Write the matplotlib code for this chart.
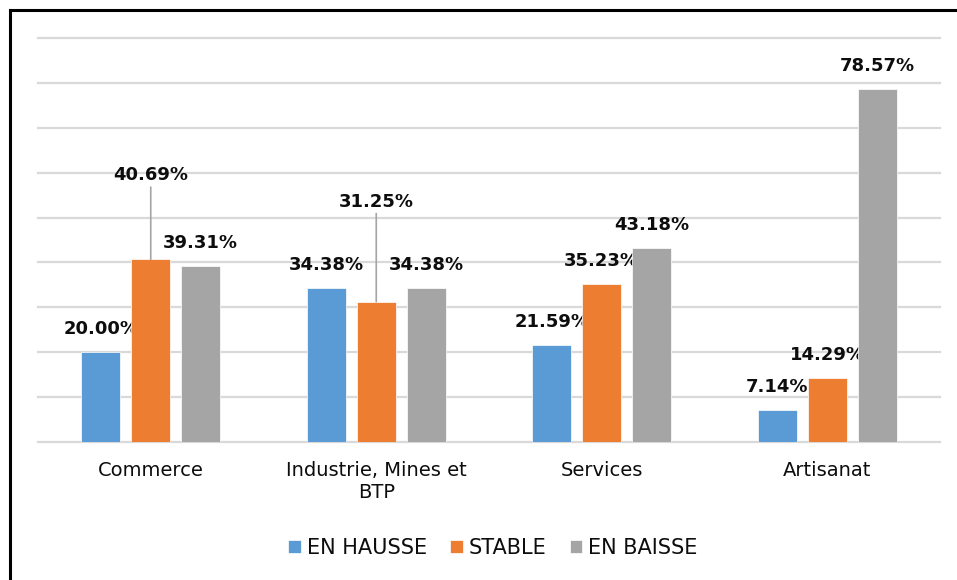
import numpy as np
import matplotlib.pyplot as plt
from matplotlib.lines import Line2D

# categories and series values (in %)
categories = ['Commerce', 'Industrie, Mines et\nBTP', 'Services', 'Artisanat']
series_names = ['EN HAUSSE', 'STABLE', 'EN BAISSE']
en_hausse = [20.00, 34.38, 21.59, 7.14]
stable = [40.69, 31.25, 35.23, 14.29]
en_baisse = [39.31, 34.38, 43.18, 78.57]

colors = ['#5B9BD5', '#ED7D31', '#A5A5A5']
# label distance above bar top, pixels (bigger ones get a leader line)
lab_off = [[23, 23, 23, 23],
           [84, 100, 23, 23],
           [23, 23, 23, 23]]

plt.rcParams['font.family'] = 'DejaVu Sans'

fig = plt.figure(figsize=(9.57, 5.8), dpi=100)
ax = fig.add_axes([38 / 957, 138 / 580, 902 / 957, 404 / 580])

x = np.arange(len(categories))
step = 0.222
width = 0.173
all_vals = [en_hausse, stable, en_baisse]

for k, vals in enumerate(all_vals):
    xs = x + (k - 1) * step
    ax.bar(xs, vals, width, color=colors[k], label=series_names[k], zorder=3,
           edgecolor='white', linewidth=0.5)
    for i, v in enumerate(vals):
        off = lab_off[k][i]
        if off > 30:
            ax.annotate('%.2f%%' % v, xy=(xs[i], v), xytext=(0, off),
                        textcoords='offset pixels', ha='center', va='center',
                        fontsize=13, fontweight='bold', color='#0d0d0d',
                        arrowprops=dict(arrowstyle='-', color='#A5A5A5', lw=1.2,
                                        shrinkA=0, shrinkB=0))
        else:
            ax.annotate('%.2f%%' % v, xy=(xs[i], v), xytext=(0, off),
                        textcoords='offset pixels', ha='center', va='center',
                        fontsize=13, fontweight='bold', color='#0d0d0d')

ax.set_xlim(-0.5, 3.5)
ax.set_ylim(0, 90)
ax.set_yticks(np.arange(0, 91, 10))
ax.set_yticklabels([])
ax.grid(axis='y', color='#D9D9D9', lw=1.6, zorder=0)
for gl in ax.get_ygridlines():
    gl.set_clip_on(False)
ax.tick_params(length=0)
for s in ax.spines.values():
    s.set_visible(False)
ax.set_xticks(x)
ax.set_xticklabels(categories, fontsize=14, color='#0d0d0d', linespacing=1.2)
ax.tick_params(axis='x', pad=14)

leg = fig.legend(loc='center', bbox_to_anchor=(493 / 957, 1 - 548 / 580),
                 ncol=3, frameon=False, fontsize=15, handlelength=0.6,
                 handleheight=0.6, handletextpad=0.3, columnspacing=1.1)
for t in leg.get_texts():
    t.set_color('#0d0d0d')

# frame lines left and top
fig.add_artist(Line2D([9.5 / 957, 9.5 / 957], [0, 1 - 10 / 580], color='black', lw=2.2))
fig.add_artist(Line2D([9.5 / 957, 1], [1 - 10 / 580, 1 - 10 / 580], color='black', lw=2.2))

plt.savefig('out.png', dpi=100)
